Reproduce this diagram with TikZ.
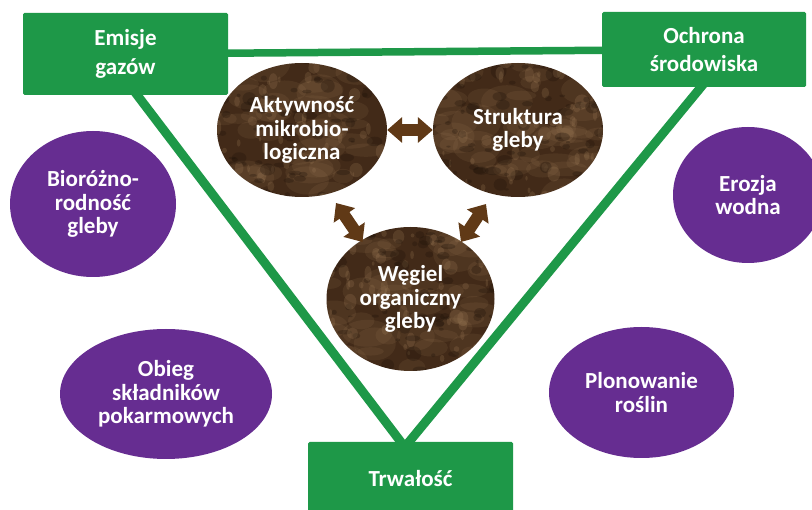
\documentclass[tikz,border=0pt]{standalone}
\usepackage{fontspec}
\setmainfont{Carlito}
\usetikzlibrary{shapes.geometric,arrows.meta,backgrounds}
\definecolor{boxgreen}{RGB}{30,152,72}
\definecolor{ellpurple}{RGB}{102,45,145}
\definecolor{arrowbrown}{RGB}{96,57,22}
\definecolor{soilbase}{RGB}{66,42,24}
\definecolor{soillight}{RGB}{165,130,92}
\definecolor{soildark}{RGB}{30,18,9}
\pgfmathsetseed{11}
\begin{document}
\begin{tikzpicture}[x=1pt,y=-1pt,
  greenbox/.style={rectangle, fill=boxgreen, rounded corners=1.5pt, text=white,
    font=\bfseries\fontsize{23}{28.5}\selectfont, align=center, inner sep=0pt},
  purpleell/.style={ellipse, fill=ellpurple, inner sep=0pt, text=white,
    font=\bfseries\fontsize{23}{23.5}\selectfont, align=center},
  soilell/.style={ellipse, fill=soilbase, inner sep=0pt, text=white,
    font=\bfseries\fontsize{23}{23.5}\selectfont, align=center,
    path picture={
      \foreach \k in {1,...,45}{
        \pgfmathsetmacro{\px}{(rnd-0.5)*170}
        \pgfmathsetmacro{\py}{(rnd-0.5)*140}
        \pgfmathsetmacro{\pr}{10+rnd*16}
        \pgfmathsetmacro{\pq}{(0.3+0.5*rnd)*\pr}
        \fill[soillight, opacity=0.13]
          ([xshift=\px pt, yshift=\py pt]path picture bounding box.center) ellipse [x radius=\pr pt, y radius=\pq pt];
      }
      \foreach \k in {1,...,150}{
        \pgfmathsetmacro{\px}{(rnd-0.5)*175}
        \pgfmathsetmacro{\py}{(rnd-0.5)*145}
        \pgfmathsetmacro{\pr}{2+rnd*6}
        \pgfmathsetmacro{\pq}{(0.3+0.7*rnd)*\pr}
        \pgfmathsetmacro{\pc}{rnd}
        \ifdim\pc pt<0.45pt
          \fill[soillight, opacity=0.22]
            ([xshift=\px pt, yshift=\py pt]path picture bounding box.center) ellipse [x radius=\pq pt, y radius=\pr pt];
        \else
          \fill[soildark, opacity=0.3]
            ([xshift=\px pt, yshift=\py pt]path picture bounding box.center) ellipse [x radius=\pr pt, y radius=\pq pt];
        \fi
      }
    }},
  greenline/.style={draw=boxgreen, line width=9pt},
  hline/.style={draw=boxgreen, line width=7.5pt},
  brownarr/.style={draw=arrowbrown, line width=12pt,
    arrows={Triangle[width=25pt,length=15pt]-Triangle[width=25pt,length=15pt]}}
]
\useasboundingbox (0,0) rectangle (812,510);

% green boxes
\node[greenbox, minimum width=205pt, minimum height=82pt] (emisje) at (125.5,54) {Emisje\\gazów};
\node[greenbox, minimum width=204pt, minimum height=75pt] (ochrona) at (704,49.5) {Ochrona\\środowiska};
\node[greenbox, minimum width=205pt, minimum height=73pt] (trwalosc) at (410.5,478.5) {Trwałość};

% purple ellipses
\node[purpleell, minimum width=166pt, minimum height=146pt] (bio) at (93,204) {Bioróżno-\\rodność\\gleby};
\node[purpleell, minimum width=212pt, minimum height=130pt] (obieg) at (166,394) {Obieg\\składników\\pokarmowych};
\node[purpleell, minimum width=150pt, minimum height=136pt] (erozja) at (748,195) {Erozja\\wodna};
\node[purpleell, minimum width=185pt, minimum height=131pt] (plon) at (641.5,392.5) {Plonowanie\\roślin};

% soil ellipses
\node[soilell, minimum width=170pt, minimum height=134pt] (akt) at (302,130) {Aktywność\\mikrobio-\\logiczna};
\node[soilell, minimum width=170pt, minimum height=134pt] (str) at (518,130) {Struktura\\gleby};
\node[soilell, minimum width=168pt, minimum height=144pt] (weg) at (410.5,299) {Węgiel\\organiczny\\gleby};

% brown double arrows
\coordinate (p1) at (336,203);
\coordinate (p2) at (362.5,242);
\coordinate (q1) at (486,204);
\coordinate (q2) at (461,242);
\draw[brownarr] (akt) -- (str);
\draw[brownarr] (p1) -- (p2);
\draw[brownarr] (q1) -- (q2);

% green connecting lines (behind boxes)
\coordinate (l1) at (131,87);
\coordinate (l2) at (407,450);
\coordinate (r1) at (707.4,79.3);
\coordinate (r2) at (402.6,449.7);
\begin{scope}[on background layer]
  \fill[white] (0,0) rectangle (812,510);
  \draw[hline] (emisje) -- (ochrona);
  \draw[greenline] (l1) -- (l2);
  \draw[greenline] (r1) -- (r2);
\end{scope}
\end{tikzpicture}
\end{document}
